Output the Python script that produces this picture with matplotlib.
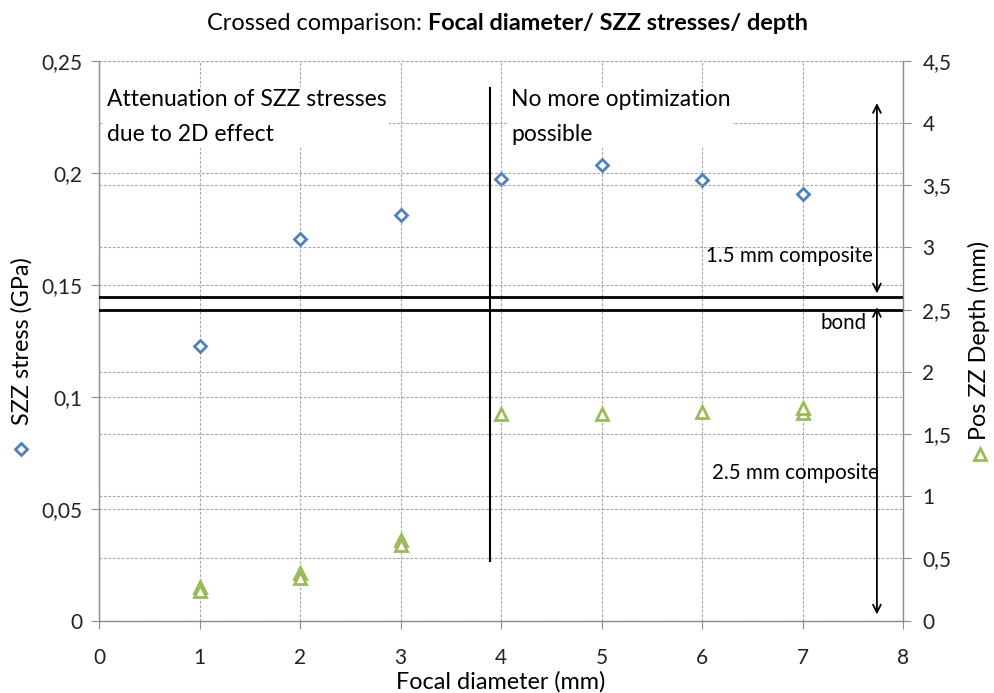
import numpy as np
import matplotlib.pyplot as plt
from matplotlib.ticker import FuncFormatter, MultipleLocator

# data
focal = [1, 2, 3, 4, 5, 6, 7]
szz_stress = [0.1228, 0.1704, 0.1811, 0.1973, 0.2033, 0.1967, 0.1905]

depth_x = [1, 1, 2, 2, 3, 3, 4, 5, 6, 7, 7]
depth = [0.27, 0.24, 0.38, 0.34, 0.65, 0.61, 1.66, 1.66, 1.68, 1.67, 1.71]

bond_lines = [2.5, 2.6]

BLUE = "#4f81bd"
GREEN = "#9bbb59"
GRID = "#a6a6a6"
AXC = "#8c8c8c"

plt.rcParams["font.family"] = ["Lato", "DejaVu Sans"]

comma = FuncFormatter(lambda v, p: f"{v:g}".replace(".", ","))

fig = plt.figure(figsize=(9.94, 6.93), dpi=100)
ax = fig.add_axes([0.0996, 0.1044, 0.8089, 0.8079])
ax2 = ax.twinx()

ax.set_xlim(0, 8)
ax.set_ylim(0, 0.25)
ax2.set_ylim(0, 4.5)
ax.xaxis.set_major_locator(MultipleLocator(1))
ax.yaxis.set_major_locator(MultipleLocator(0.05))
ax2.yaxis.set_major_locator(MultipleLocator(0.5))
ax.yaxis.set_major_formatter(comma)
ax2.yaxis.set_major_formatter(comma)

dash = (0, (2.5, 1.5))
ax.grid(True, axis="both", color=GRID, lw=0.8, ls=dash)
ax2.grid(True, axis="y", color=GRID, lw=0.8, ls=dash)
ax.set_axisbelow(True)
ax2.set_axisbelow(True)

for a in (ax, ax2):
    for s in a.spines.values():
        s.set_visible(False)
ax.spines["left"].set_visible(True)
ax.spines["bottom"].set_visible(True)
ax2.spines["right"].set_visible(True)
for s in (ax.spines["left"], ax.spines["bottom"], ax2.spines["right"]):
    s.set_color(AXC)
    s.set_linewidth(1)

ax.tick_params(axis="y", direction="out", length=6, color=AXC, labelsize=15, labelcolor="#222222", pad=6)
ax.tick_params(axis="x", direction="out", length=6, color=AXC, labelsize=15, labelcolor="#222222", pad=14)
ax2.tick_params(axis="y", direction="out", length=6, color=AXC, labelsize=15, labelcolor="#222222", pad=8)

ax.plot(focal, szz_stress, ls="none", marker="D", ms=6, mfc="white", mec=BLUE, mew=2, zorder=5)
ax2.plot(depth_x, depth, ls="none", marker="^", ms=8, mfc="white", mec=GREEN, mew=2, zorder=5)

# bond layer and separation line
for b in bond_lines:
    ax2.axhline(b, color="black", lw=2, zorder=4)
ax2.plot([3.89, 3.89], [0.48, 4.28], color="black", lw=1.5, zorder=4)

# layer arrows
arr = dict(arrowstyle="<->", color="black", lw=1.3, mutation_scale=14, shrinkA=0, shrinkB=0)
ax2.annotate("", xy=(7.74, 4.16), xytext=(7.74, 2.63), arrowprops=arr)
ax2.annotate("", xy=(7.74, 2.52), xytext=(7.74, 0.05), arrowprops=arr)

box = dict(facecolor="white", edgecolor="none", pad=2)
ax2.text(0.08, 4.27, "Attenuation of SZZ stresses\ndue to 2D effect", fontsize=16.5,
         va="top", ha="left", linespacing=1.8, bbox=box, zorder=6)
ax2.text(4.1, 4.27, "No more optimization\npossible", fontsize=16.5,
         va="top", ha="left", linespacing=1.8, bbox=box, zorder=6)
ax2.text(7.7, 2.93, "1.5 mm composite", fontsize=14.8, va="center", ha="right", zorder=6)
ax2.text(7.64, 2.39, "bond", fontsize=14.8, va="center", ha="right", zorder=6)
ax2.text(7.76, 1.19, "2.5 mm composite", fontsize=14.8, va="center", ha="right", zorder=6)

ax.set_xlabel("Focal diameter (mm)", fontsize=16.8, labelpad=2)
ax.set_ylabel("SZZ stress (GPa)", fontsize=16.8, labelpad=6)
ax2.set_ylabel("Pos ZZ Depth (mm)", fontsize=16.8, labelpad=12, rotation=90)

# legend markers next to the axis titles
ax.plot([-0.097], [0.307], transform=ax.transAxes, clip_on=False, marker="D", ms=6,
        mfc="white", mec=BLUE, mew=2, ls="none")
ax.plot([1.096], [0.298], transform=ax.transAxes, clip_on=False, marker="^", ms=8,
        mfc="white", mec=GREEN, mew=2, ls="none")

fig.text(0.431, 0.966, "Crossed comparison: ", fontsize=16.9, ha="right", va="center")
fig.text(0.431, 0.966, "Focal diameter/ SZZ stresses/ depth", fontsize=16.9, ha="left",
         va="center", fontweight="bold")

fig.savefig("out.png", dpi=100)
